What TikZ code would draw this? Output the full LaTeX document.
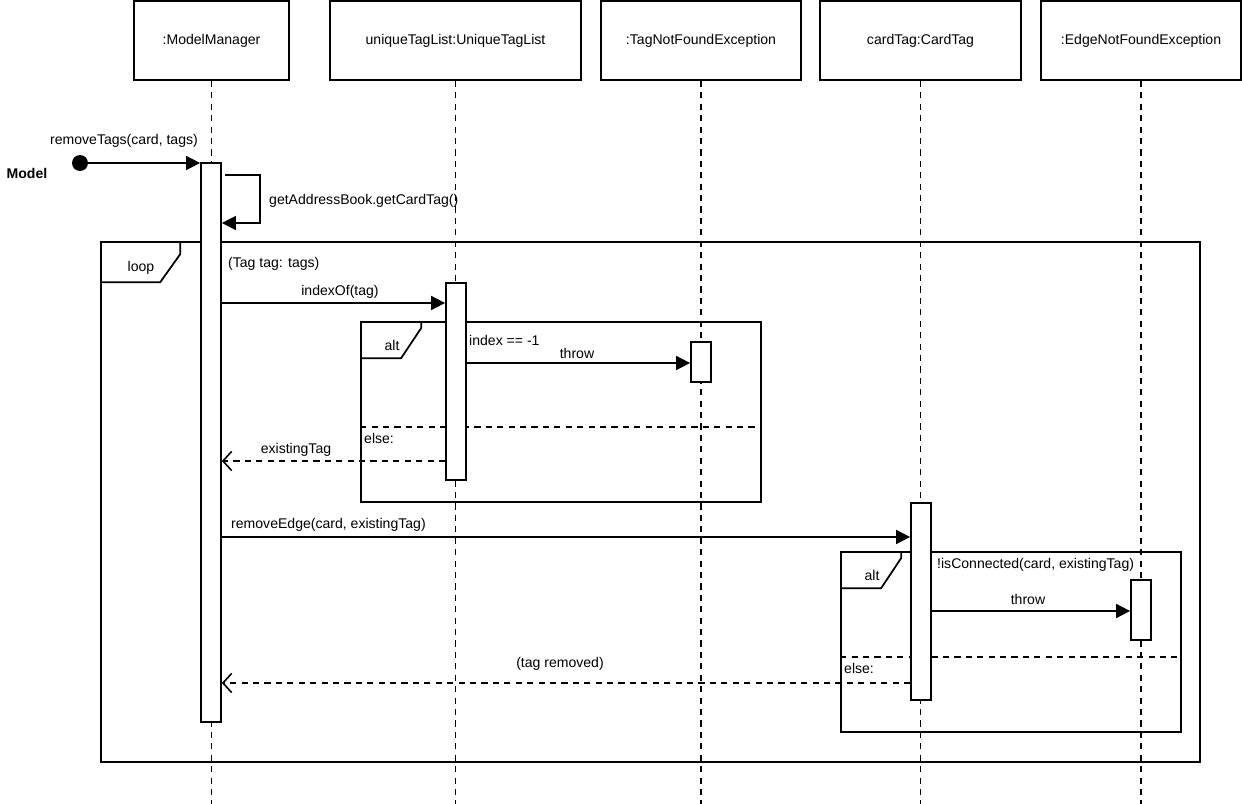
\documentclass[tikz,border=0pt]{standalone}
\usepackage{fontspec}
\setmainfont{Liberation Sans}
\usetikzlibrary{arrows.meta}

\begin{document}
\begin{tikzpicture}[x=0.02cm,y=-0.02cm,font=\fontsize{8}{9.6}\selectfont,
    obj/.style={draw,line width=1pt,minimum height=1.58cm},
    bar/.style={draw,fill=white,line width=1pt,minimum width=0.4cm},
    life/.style={line width=1pt,dash pattern=on 3.5pt off 3pt},
    frame/.style={draw,line width=1pt},
    msg/.style={line width=0.9pt,-{Triangle[length=8pt,width=8pt]}},
    ret/.style={line width=0.9pt,dash pattern=on 3.5pt off 3pt,-{Straight Barb[length=5pt,width=11pt]}},
    sep/.style={line width=0.9pt,dash pattern=on 3.5pt off 3pt}]
        \useasboundingbox (0,0) rectangle (1242,804);

        % Objects
        \node[obj,minimum width=3.1cm] (mm) at (211.5,40.5) {:ModelManager};
        \node[obj,minimum width=5.02cm] (ut) at (455.5,40.5) {uniqueTagList:UniqueTagList};
        \node[obj,minimum width=4cm] (tn) at (701,40.5) {:TagNotFoundException};
        \node[obj,minimum width=4.02cm] (ct) at (920.5,40.5) {cardTag:CardTag};
        \node[obj,minimum width=4cm] (en) at (1141,40.5) {:EdgeNotFoundException};

        % Lifelines
        \foreach \o in {mm,ut,tn,ct,en}
            \draw[life] (\o.south) -- (\o.south |- 0,804);

        % Frames
        \node[frame,minimum width=21.98cm,minimum height=10.4cm] (loop) at (650.5,502) {};
        \draw[frame] (loop.north west) ++(0,41) -- ++(60,0) -- ++(20,-28) -- ++(0,-13);
        \node at (141,268) {loop};
        \node[anchor=west] at (222,264) {(Tag tag: tags)};

        \node[frame,minimum width=8cm,minimum height=3.6cm] (alta) at (561,412) {};
        \draw[frame] (alta.north west) ++(0,37) -- ++(41,0) -- ++(20,-30) -- ++(0,-7);
        \node at (392,345) {alt};
        \node[anchor=west] at (463,340) {index == -1};
        \draw[sep] (alta.west |- 0,427) -- (alta.east |- 0,427);
        \node[anchor=west] at (358,438) {else:};

        \node[frame,minimum width=6.8cm,minimum height=3.6cm] (altb) at (1011,642) {};
        \draw[frame] (altb.north west) ++(0,37) -- ++(41,0) -- ++(20,-30) -- ++(0,-7);
        \node at (872,575) {alt};
        \node[anchor=west] at (931,565) {!isConnected(card, existingTag)};
        \draw[sep] (altb.west |- 0,657) -- (altb.east |- 0,657);
        \node[anchor=west] at (838,668) {else:};

        % Activations
        \node[bar,minimum height=11.18cm] (mmbar) at (211,442.5) {};
        \node[bar,minimum height=3.94cm] (utbar) at (456,381.5) {};
        \node[bar,minimum height=0.8cm] (tnbar) at (701,362) {};
        \node[bar,minimum height=3.94cm] (ctbar) at (921,601.5) {};
        \node[bar,minimum height=1.2cm] (enbar) at (1141,610) {};

        % Messages
        \node[circle,fill,inner sep=0pt,minimum size=0.32cm] (start) at (80,163) {};
        \node[font=\fontsize{8}{9.6}\selectfont\bfseries] at (27,173) {Model};
        \draw[msg] (start) -- (mmbar.west |- start);
        \node at (124,141) {removeTags(card, tags)};

        \draw[msg] (225,175) -- (260,175) |- (mmbar.east |- 0,223);
        \node[anchor=west] at (263,201) {getAddressBook.getCardTag()};

        \draw[msg] (mmbar.east |- 0,303) -- (utbar.west |- 0,303);
        \node at (340,292) {indexOf(tag)};

        \draw[msg] (utbar.east |- 0,363) -- (tnbar.west |- 0,363);
        \node at (577,353) {throw};

        \draw[ret] (utbar.west |- 0,461) -- (mmbar.east |- 0,461);
        \node at (296,450) {existingTag};

        \draw[msg] (mmbar.east |- 0,537) -- (ctbar.west |- 0,537);
        \node[anchor=west] at (225,525) {removeEdge(card, existingTag)};

        \draw[msg] (ctbar.east |- 0,611) -- (enbar.west |- 0,611);
        \node at (1028,599) {throw};

        \draw[ret] (ctbar.west |- 0,683) -- (mmbar.east |- 0,683);
        \node at (560,664) {(tag removed)};
\end{tikzpicture}
\end{document}
